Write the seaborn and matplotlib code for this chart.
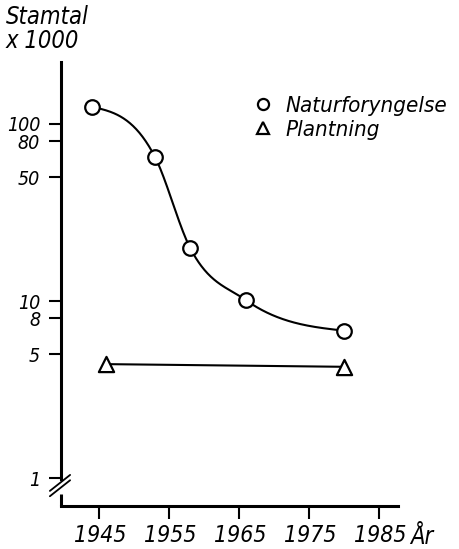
import numpy as np
import pandas as pd
import matplotlib
matplotlib.use("Agg")
import matplotlib.pyplot as plt
import matplotlib.transforms as mtransforms
import seaborn as sns
from matplotlib import font_manager
from matplotlib.lines import Line2D

# Stem counts (thousands) over time
nat_years = [1944, 1953, 1958, 1966, 1980]
nat_stems = [125, 65, 20, 10.1, 6.8]
plant_years = [1946, 1980]
plant_stems = [4.4, 4.25]

x_ticks = [1945, 1955, 1965, 1975, 1985]
y_ticks = [1, 5, 8, 10, 50, 80, 100]
y_tick_labels = ["1", "5", "8", "10", "50", "80", "100"]

nat_df = pd.DataFrame({"year": nat_years, "stems": nat_stems})
plant_df = pd.DataFrame({"year": plant_years, "stems": plant_stems})

sns.set_style("ticks")
installed = {f.name for f in font_manager.fontManager.ttflist}
if "Liberation Sans Narrow" in installed:
    family, stretch = "Liberation Sans Narrow", "normal"
else:
    family, stretch = "DejaVu Sans", "condensed"
plt.rcParams["font.family"] = [family, "DejaVu Sans"]
plt.rcParams["font.stretch"] = stretch
plt.rcParams["font.style"] = "italic"
for key in ["text.color", "axes.labelcolor", "xtick.color", "ytick.color",
            "axes.edgecolor"]:
    plt.rcParams[key] = "black"

W, H = 459, 549
fig = plt.figure(figsize=(W / 100, H / 100), dpi=100)
fig.patch.set_facecolor("white")
left, right, top, bottom = 61, 398, 62, 506
ax = fig.add_axes([left / W, 1 - bottom / H, (right - left) / W, (bottom - top) / H])
ax.set_facecolor("white")

ax.set_yscale("log")
ax.set_xlim(1939.57, 1987.7)
ax.set_ylim(0.695, 224)


def smooth_curve(x, y, num=400):
    """Cubic Hermite curve in (x, log y) with three-point interior slopes
    and natural end conditions."""
    x = np.asarray(x, float)
    ly = np.log10(np.asarray(y, float))
    h = np.diff(x)
    s = np.diff(ly) / h
    m = np.zeros(len(x))
    for k in range(1, len(x) - 1):
        m[k] = (h[k] * s[k - 1] + h[k - 1] * s[k]) / (h[k - 1] + h[k])
    m[0] = (3 * s[0] - m[1]) / 2
    m[-1] = (3 * s[-1] - m[-2]) / 2
    xs = np.linspace(x[0], x[-1], num)
    idx = np.clip(np.searchsorted(x, xs) - 1, 0, len(x) - 2)
    hh = h[idx]
    t = (xs - x[idx]) / hh
    out = ((2 * t ** 3 - 3 * t ** 2 + 1) * ly[idx]
           + (t ** 3 - 2 * t ** 2 + t) * hh * m[idx]
           + (-2 * t ** 3 + 3 * t ** 2) * ly[idx + 1]
           + (t ** 3 - t ** 2) * hh * m[idx + 1])
    return xs, 10 ** out


cx, cy = smooth_curve(nat_years, nat_stems)
curve_df = pd.DataFrame({"year": cx, "stems": cy})

lw_line = 1.5
sns.lineplot(data=curve_df, x="year", y="stems", ax=ax, color="black",
             linewidth=lw_line, zorder=2, estimator=None, sort=False)
sns.lineplot(data=plant_df, x="year", y="stems", ax=ax, color="black",
             linewidth=lw_line, zorder=2, estimator=None)
sns.scatterplot(data=nat_df, x="year", y="stems", ax=ax, marker="o", s=110,
                facecolor="white", edgecolor="black", linewidth=1.6, zorder=3)
sns.scatterplot(data=plant_df, x="year", y="stems", ax=ax, marker="^", s=120,
                facecolor="white", edgecolor="black", linewidth=1.6, zorder=3)

# axes styling
for side in ["top", "right"]:
    ax.spines[side].set_visible(False)
ax.spines["left"].set_linewidth(2.2)
ax.spines["bottom"].set_linewidth(2.2)
ax.spines["left"].set_bounds(0.985, 224)

ax.set_xticks(x_ticks)
ax.set_xticklabels([str(v) for v in x_ticks])
ax.set_yticks(y_ticks)
ax.set_yticklabels(y_tick_labels)
ax.yaxis.set_minor_locator(matplotlib.ticker.NullLocator())
ax.tick_params(axis="both", which="major", direction="out", length=9,
               width=1.5, color="black", labelcolor="black")
ax.tick_params(axis="x", pad=4, labelsize=16.5)
ax.tick_params(axis="y", pad=6, labelsize=14)
shift = mtransforms.ScaledTranslation(1.5 / 100, 0, fig.dpi_scale_trans)
for lab in ax.get_xticklabels():
    lab.set_transform(lab.get_transform() + shift)
ax.set_xlabel("")
ax.set_ylabel("")

# broken y axis near the origin
ax.plot([0, 0], [0, 0.027], transform=ax.transAxes, color="black",
        linewidth=2.2, clip_on=False, solid_capstyle="butt")
for dy in (0.0, 0.012):
    ax.plot([-0.033, 0.027], [0.022 + dy, 0.058 + dy], transform=ax.transAxes,
            color="black", linewidth=1.3, clip_on=False)

# legend
handles = [
    Line2D([], [], marker="o", linestyle="none", markersize=8,
           markerfacecolor="white", markeredgecolor="black", markeredgewidth=1.6),
    Line2D([], [], marker="^", linestyle="none", markersize=8,
           markerfacecolor="white", markeredgecolor="black", markeredgewidth=1.6),
]
ax.legend(handles, ["Naturforyngelse", "Plantning"], loc="upper left",
          bbox_to_anchor=(252 / W, 1 - 96 / H), bbox_transform=fig.transFigure,
          frameon=False, fontsize=16, handlelength=1.0, handletextpad=0.5,
          borderpad=0, borderaxespad=0, labelspacing=0.18)

fig.text(6 / W, 1 - 5 / H, "Stamtal", fontsize=17, va="top", ha="left")
fig.text(6 / W, 1 - 29 / H, "x 1000", fontsize=17, va="top", ha="left")
fig.text(410 / W, 1 - 537 / H, "År", fontsize=17, va="center", ha="left")

fig.savefig("out.png", dpi=100, facecolor="white")
